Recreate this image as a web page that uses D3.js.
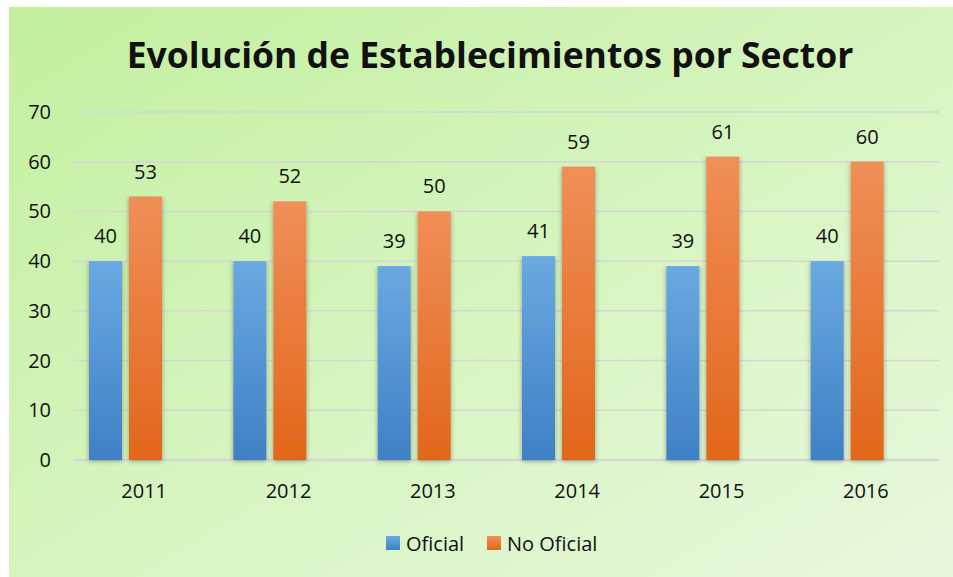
<!DOCTYPE html>
<html>
<head>
<meta charset="utf-8">
<script src="https://cdn.jsdelivr.net/npm/d3@7"></script>
<style>
  body { margin: 0; background: #fff; }
  text { font-family: "Open Sans", "Noto Sans", sans-serif; fill: #111; }
</style>
</head>
<body>
<div id="chart"></div>
<script>
// chart data
var years = ['2011', '2012', '2013', '2014', '2015', '2016'];
var oficial = [40, 40, 39, 41, 39, 40];
var noOficial = [53, 52, 50, 59, 61, 60];
var seriesNames = ['Oficial', 'No Oficial'];
var yTicks = [0, 10, 20, 30, 40, 50, 60, 70];

var width = 953;
var height = 577;
var margins = { top: 112, right: 14, bottom: 117, left: 73 };
var innerWidth = width - margins.left - margins.right;
var innerHeight = height - margins.top - margins.bottom;

var svg = d3.select('#chart')
    .append('svg')
    .attr('width', width)
    .attr('height', height);

var defs = svg.append('defs');

// background gradient
var bg = defs.append('linearGradient')
    .attr('id', 'bg')
    .attr('x1', '0%').attr('y1', '0%')
    .attr('x2', '100%').attr('y2', '100%');
bg.append('stop').attr('offset', '0%').attr('stop-color', '#c3f09f');
bg.append('stop').attr('offset', '100%').attr('stop-color', '#e8f9de');

var blueGrad = defs.append('linearGradient')
    .attr('id', 'blueGrad')
    .attr('x1', 0).attr('y1', 0).attr('x2', 0).attr('y2', 1);
blueGrad.append('stop').attr('offset', '0%').attr('stop-color', '#6aa9e1');
blueGrad.append('stop').attr('offset', '100%').attr('stop-color', '#3f80c5');

var orangeGrad = defs.append('linearGradient')
    .attr('id', 'orangeGrad')
    .attr('x1', 0).attr('y1', 0).attr('x2', 0).attr('y2', 1);
orangeGrad.append('stop').attr('offset', '0%').attr('stop-color', '#f08f58');
orangeGrad.append('stop').attr('offset', '100%').attr('stop-color', '#e2661b');

// soft shadow at the sides of the bars
var shadow = defs.append('filter')
    .attr('id', 'shadow')
    .attr('x', '-40%').attr('y', '0%')
    .attr('width', '180%').attr('height', '103%');
shadow.append('feDropShadow')
    .attr('dx', 0).attr('dy', 1)
    .attr('stdDeviation', 2.5)
    .attr('flood-color', '#000')
    .attr('flood-opacity', 0.35);

svg.append('rect')
    .attr('x', 9)
    .attr('y', 7)
    .attr('width', width - 9)
    .attr('height', height - 7)
    .attr('fill', 'url(#bg)');

// title
svg.append('text')
    .attr('x', 490)
    .attr('y', 68)
    .attr('text-anchor', 'middle')
    .style('font-size', '35.5px')
    .style('font-weight', 'bold')
    .text('Evolución de Establecimientos por Sector');

var g = svg.append('g')
    .attr('transform', 'translate(' + margins.left + ',' + margins.top + ')');

var x = d3.scaleBand()
    .domain(years)
    .range([0, innerWidth]);

var y = d3.scaleLinear()
    .domain([0, 70])
    .range([innerHeight, 0]);

// gridlines
g.append('g')
    .selectAll('line')
    .data(yTicks)
    .enter()
    .append('line')
    .attr('x1', 0)
    .attr('x2', innerWidth)
    .attr('y1', function(d) { return y(d); })
    .attr('y2', function(d) { return y(d); })
    .style('stroke', '#d6d6d6')
    .style('stroke-width', function(d) { return d === 0 ? 2.5 : 1.5; });

// y axis labels
g.append('g')
    .selectAll('text')
    .data(yTicks)
    .enter()
    .append('text')
    .attr('x', -22)
    .attr('y', function(d) { return y(d); })
    .attr('dy', '0.35em')
    .attr('text-anchor', 'end')
    .style('font-size', '20px')
    .text(function(d) { return d; });

// x axis labels
g.append('g')
    .selectAll('text')
    .data(years)
    .enter()
    .append('text')
    .attr('x', function(d) { return x(d) + x.bandwidth() / 2 - 1; })
    .attr('y', innerHeight + 38)
    .attr('text-anchor', 'middle')
    .style('font-size', '20px')
    .text(function(d) { return d; });

var barWidth = 33;
var barGap = 7;
var groupOffset = 16;

var series = [
    { name: seriesNames[0], values: oficial, fill: 'url(#blueGrad)' },
    { name: seriesNames[1], values: noOficial, fill: 'url(#orangeGrad)' }
];

series.forEach(function(s, si) {
    var sg = g.append('g').attr('class', 'series-' + si);

    sg.selectAll('rect')
        .data(s.values)
        .enter()
        .append('rect')
        .attr('x', function(d, i) { return x(years[i]) + groupOffset + si * (barWidth + barGap); })
        .attr('y', function(d) { return y(d); })
        .attr('width', barWidth)
        .attr('height', function(d) { return innerHeight - y(d); })
        .attr('fill', s.fill)
        .attr('filter', 'url(#shadow)');

    sg.selectAll('text')
        .data(s.values)
        .enter()
        .append('text')
        .attr('x', function(d, i) { return x(years[i]) + groupOffset + si * (barWidth + barGap) + barWidth / 2; })
        .attr('y', function(d) { return y(d) - 18; })
        .attr('text-anchor', 'middle')
        .style('font-size', '20px')
        .text(function(d) { return d; });
});

// legend
var legend = svg.append('g').attr('class', 'legend');
var legendItems = [
    { x: 386, s: series[0] },
    { x: 487, s: series[1] }
];
legendItems.forEach(function(item) {
    legend.append('rect')
        .attr('x', item.x)
        .attr('y', 536)
        .attr('width', 14)
        .attr('height', 14)
        .attr('fill', item.s.fill);
    legend.append('text')
        .attr('x', item.x + 20)
        .attr('y', 551)
        .style('font-size', '20px')
        .text(item.s.name);
});
</script>
</body>
</html>
